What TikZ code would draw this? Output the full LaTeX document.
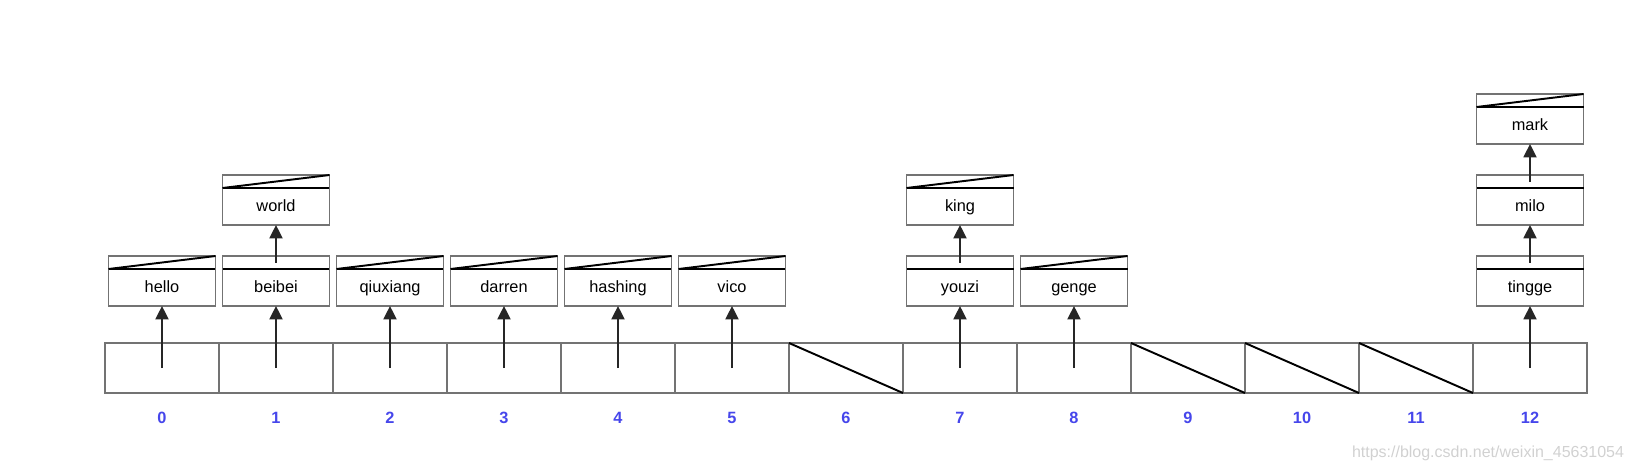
\documentclass[tikz,border=0pt]{standalone}
\usepackage{fontspec}
\setmainfont{Liberation Sans}
\usepackage{tikz}
\usetikzlibrary{arrows.meta}
\usetikzlibrary{positioning}

\definecolor{idxblue}{RGB}{70,70,235}

\begin{document}
\begin{tikzpicture}[x=0.02cm, y=-0.02cm,
  every node/.style={font=\fontsize{9.3}{11}\selectfont},
  cell/.style={draw=black!55, line width=0.6pt, minimum width=2.28cm, minimum height=1cm, inner sep=0pt, outer sep=0pt},
  entry/.style={draw=black!55, line width=0.6pt, minimum width=2.14cm, minimum height=0.74cm, inner sep=0pt, outer sep=0pt, text height=1.55ex, text depth=0.45ex},
  ptr/.style={draw=black!55, line width=0.6pt, minimum width=2.14cm, minimum height=0.26cm, inner sep=0pt, outer sep=0pt},
  idx/.style={text=idxblue, font=\fontsize{9.3}{11}\selectfont\bfseries},
  heavy/.style={line width=1.1pt, black},
  arr/.style={line width=1.1pt, black!85, -{Triangle[length=7.6pt, width=7.4pt]}}]
        % Define the last bucket index
        \def\n{12}
        \useasboundingbox (0,0) rectangle (1633,467);

        % Draw the buckets and their indices
        \foreach \i in {0,...,\n}
        {
          \node[cell] (c\i) at ({162+114*\i},368) {};
          \node[idx] (n\i) at ({162+114*\i},418) {\i};
        }

        % Empty buckets
        \foreach \i in {6,9,10,11}
          \draw[heavy] (c\i.north west) -- (c\i.south east);

        % Entries: name/bucket/level/last
        \foreach \nm/\i/\lv/\last in {hello/0/0/1, beibei/1/0/0, world/1/1/1, qiuxiang/2/0/1, darren/3/0/1, hashing/4/0/1, vico/5/0/1, youzi/7/0/0, king/7/1/1, genge/8/0/1, tingge/12/0/0, milo/12/1/0, mark/12/2/1}
        {
          \node[entry] (\nm) at ({162+114*\i},{287.5-81*\lv}) {\nm};
          \node[ptr, above=0pt of \nm] (p\nm) {};
          \draw[heavy] (\nm.north west) -- (\nm.north east);
          \ifnum\last=1
            \draw[heavy] (p\nm.south west) -- (p\nm.north east);
          \fi
        }

        % Bucket to first entry
        \foreach \i/\nm in {0/hello, 1/beibei, 2/qiuxiang, 3/darren, 4/hashing, 5/vico, 7/youzi, 8/genge, 12/tingge}
          \draw[arr] (c\i.center) -- (\nm.south);

        % Chained entries
        \foreach \a/\b in {beibei/world, youzi/king, tingge/milo, milo/mark}
          \draw[arr] (p\a.center) -- (\b.south);

        \node[text=black!18, font=\fontsize{9.1}{11}\selectfont] (wm) at (1488,453) {https://blog.csdn.net/weixin\_45631054};
      \end{tikzpicture}
\end{document}
